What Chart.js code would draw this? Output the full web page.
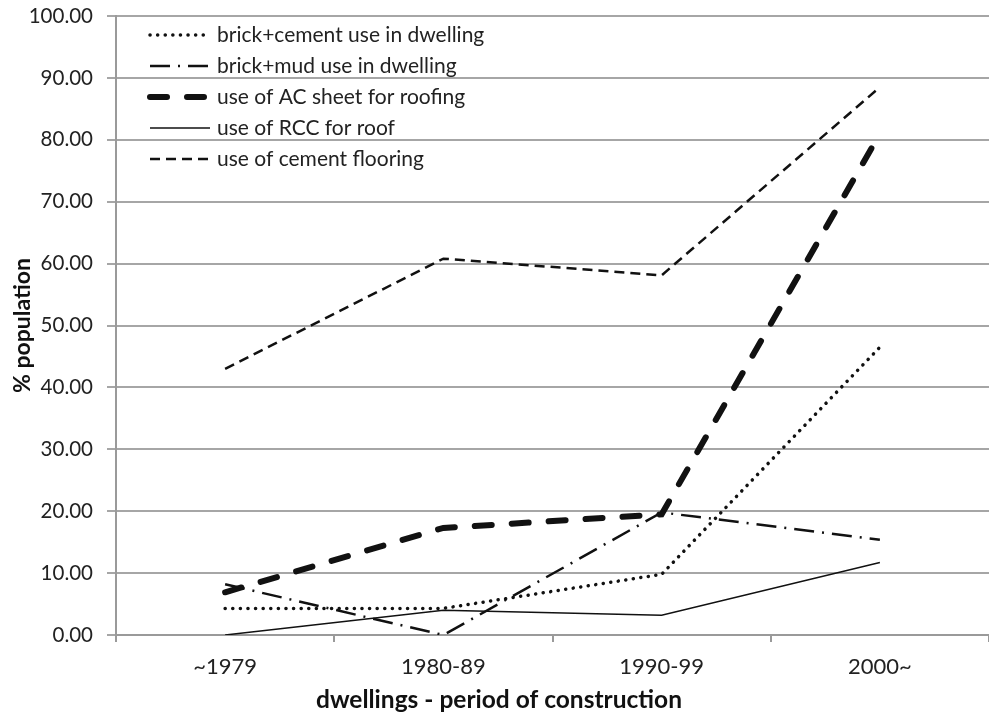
<!DOCTYPE html>
<html>
<head>
<meta charset="utf-8">
<script src="https://cdn.jsdelivr.net/npm/chart.js@4"></script>
<style>
  html, body { margin: 0; padding: 0; background: #fff; }
  #wrap { width: 989px; height: 717px; }
</style>
</head>
<body>
<div id="wrap"><canvas id="chart" width="989" height="717"></canvas></div>
<script>
// categories and values
const periods = ['~1979', '1980-89', '1990-99', '2000~'];
const brickCement = [4.3, 4.3, 9.8, 46.5];
const brickMud = [8.2, 0.0, 19.8, 15.4];
const acSheet = [6.9, 17.3, 19.5, 81.0];
const rccRoof = [0.0, 4.0, 3.2, 11.7];
const cementFloor = [43.0, 60.8, 58.1, 88.5];
const yTicks = [0, 10, 20, 30, 40, 50, 60, 70, 80, 90, 100];
const xTitle = 'dwellings - period of construction';

const ink = '#111';
const fontFamily = 'Lato, "Open Sans", sans-serif';

const datasets = [
  { label: 'brick+cement use in dwelling', data: brickCement, borderColor: ink, borderWidth: 3.5, borderDash: [0.1, 7.5], borderCapStyle: 'round' },
  { label: 'brick+mud use in dwelling', data: brickMud, borderColor: ink, borderWidth: 2.5, borderDash: [20, 8, 2, 8], borderCapStyle: 'butt' },
  { label: 'use of AC sheet for roofing', data: acSheet, borderColor: ink, borderWidth: 6, borderDash: [17, 20], borderCapStyle: 'round' },
  { label: 'use of RCC for roof', data: rccRoof, borderColor: ink, borderWidth: 1.5, borderDash: [], borderCapStyle: 'butt' },
  { label: 'use of cement flooring', data: cementFloor, borderColor: ink, borderWidth: 2.5, borderDash: [10, 6], borderCapStyle: 'butt' }
];
datasets.forEach(d => { d.pointRadius = 0; d.fill = false; d.tension = 0; });

// legend drawn inside the plot, top left, like the original
// plus the x axis title, which sits left of the plot centre in the original
const insideLegend = {
  id: 'insideLegend',
  afterDraw(chart) {
    const ctx = chart.ctx;
    const area = chart.chartArea;
    ctx.save();
    ctx.font = '21px ' + fontFamily;
    ctx.textBaseline = 'middle';
    chart.data.datasets.forEach((d, i) => {
      const y = area.top + 19 + i * 31;
      const x0 = area.left + 34;
      ctx.beginPath();
      ctx.setLineDash(d.borderDash);
      ctx.lineCap = d.borderCapStyle;
      ctx.lineWidth = d.borderWidth;
      ctx.strokeStyle = d.borderColor;
      ctx.moveTo(x0, y);
      ctx.lineTo(x0 + 60, y);
      ctx.stroke();
      ctx.setLineDash([]);
      ctx.fillStyle = '#222';
      ctx.fillText(d.label, x0 + 67, y);
    });
    ctx.font = 'bold 24.5px ' + fontFamily;
    ctx.textAlign = 'center';
    ctx.fillStyle = ink;
    ctx.fillText(xTitle, 499, 700);
    ctx.restore();
  }
};

new Chart(document.getElementById('chart'), {
  type: 'line',
  data: { labels: periods, datasets: datasets },
  plugins: [insideLegend],
  options: {
    responsive: false,
    animation: false,
    layout: { padding: { top: 16, right: 0, left: 0, bottom: 0 } },
    plugins: { legend: { display: false }, tooltip: { enabled: false } },
    scales: {
      x: {
        offset: true,
        grid: { offset: true, drawOnChartArea: false, drawTicks: true, tickLength: 7, color: '#9a9a9a', lineWidth: 2 },
        border: { color: '#9a9a9a', width: 2 },
        ticks: { color: '#222', font: { family: fontFamily, size: 22 }, padding: 12 },
        afterFit(axis) { axis.height = 82; axis.paddingLeft = 0; axis.paddingRight = 0; }
      },
      y: {
        min: 0,
        max: 100,
        afterBuildTicks(axis) { axis.ticks = yTicks.map(v => ({ value: v })); },
        grid: { color: '#a6a6a6', lineWidth: 2, tickLength: 9 },
        border: { color: '#9a9a9a', width: 2 },
        ticks: { color: '#222', font: { family: fontFamily, size: 20.5 }, padding: 14, callback: v => v.toFixed(2) },
        title: { display: true, text: '% population', color: '#111', font: { family: fontFamily, size: 23, weight: 'bold' }, padding: { top: 9, bottom: 0 } },
        afterFit(axis) { axis.width = 116; axis.paddingTop = 0; axis.paddingBottom = 0; }
      }
    }
  }
});
</script>
</body>
</html>
